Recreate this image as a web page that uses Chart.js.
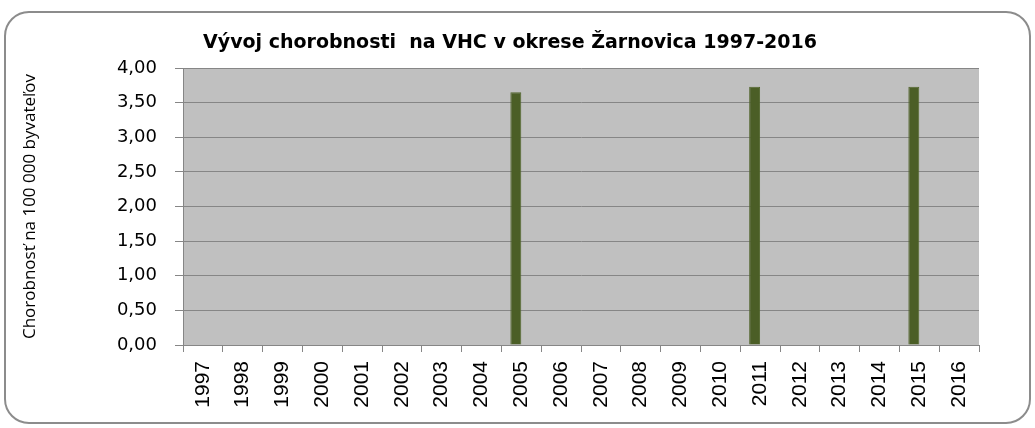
<!DOCTYPE html>
<html lang="sk">
<head>
<meta charset="utf-8">
<title>Vývoj chorobnosti na VHC v okrese Žarnovica</title>
<script src="https://cdn.jsdelivr.net/npm/chart.js@4.4.1/dist/chart.umd.min.js"></script>
<style>
  html, body { margin: 0; padding: 0; background: #fff; }
  #graf { display: block; }
</style>
</head>
<body>
<canvas id="graf" width="1035" height="428"></canvas>
<script>
// roky a chorobnosť na 100 000 obyvateľov
const roky = ["1997", "1998", "1999", "2000", "2001", "2002", "2003", "2004", "2005", "2006",
              "2007", "2008", "2009", "2010", "2011", "2012", "2013", "2014", "2015", "2016"];
const chorobnost = [null, null, null, null, null, null, null, null, 3.65, null,
                    null, null, null, null, 3.73, null, null, null, 3.73, null];
// druhá rada v grafe je prázdna, preto sú stĺpce posunuté doľava
const druhaRada = [null, null, null, null, null, null, null, null, null, null,
                   null, null, null, null, null, null, null, null, null, null];
const nadpis = "Vývoj chorobnosti  na VHC v okrese Žarnovica 1997-2016";
const nazovOsiY = "Chorobnosť na 100 000 byvateľov";

const sivaCiara = "#868686";

// rámik, sivé pozadie grafu a nadpis
const pozadie = {
  id: "pozadie",
  beforeDraw(chart) {
    const ctx = chart.ctx;
    const a = chart.chartArea;
    ctx.save();
    ctx.fillStyle = "#fff";
    ctx.fillRect(0, 0, chart.width, chart.height);

    ctx.strokeStyle = "#8c8c8c";
    ctx.lineWidth = 2;
    ctx.beginPath();
    ctx.roundRect(5, 12, 1025, 411, 24);
    ctx.stroke();

    ctx.fillStyle = "#c0c0c0";
    ctx.fillRect(a.left, a.top, a.right - a.left, a.bottom - a.top);

    ctx.fillStyle = "#000";
    ctx.font = "bold 19px 'DejaVu Sans'";
    ctx.textAlign = "center";
    ctx.textBaseline = "alphabetic";
    ctx.fillText(nadpis, 510, 48);
    ctx.restore();
  }
};

new Chart(document.getElementById("graf").getContext("2d"), {
  type: "bar",
  data: {
    labels: roky,
    datasets: [
      {
        label: "Chorobnosť",
        data: chorobnost,
        backgroundColor: "#4b5e26",
        borderColor: "#52652d",
        borderWidth: 1,
        barPercentage: 1,
        categoryPercentage: 0.55,
      },
      {
        label: "",
        data: druhaRada,
        backgroundColor: "#8064a2",
        barPercentage: 1,
        categoryPercentage: 0.55,
      },
    ],
  },
  options: {
    responsive: false,
    animation: false,
    layout: { padding: { left: 8, top: 68, right: 56, bottom: 10 } },
    plugins: {
      legend: { display: false },
      tooltip: { enabled: false },
      title: { display: false },
    },
    scales: {
      x: {
        grid: {
          display: true,
          drawOnChartArea: false,
          drawTicks: true,
          tickLength: 7,
          color: sivaCiara,
          offset: true,
        },
        border: { display: true, color: sivaCiara },
        ticks: {
          autoSkip: false,
          minRotation: 90,
          maxRotation: 90,
          padding: 9,
          color: "#000",
          font: { family: "'Liberation Sans'", size: 21 },
        },
        afterFit(scale) { scale.height = 73; },
      },
      y: {
        min: 0,
        max: 4,
        ticks: {
          stepSize: 0.5,
          padding: 18,
          color: "#000",
          font: { family: "'DejaVu Sans'", size: 18 },
          callback: v => v.toFixed(2).replace(".", ","),
        },
        grid: { color: sivaCiara, tickLength: 8, drawTicks: true },
        border: { display: true, color: sivaCiara },
        title: {
          display: true,
          text: nazovOsiY,
          color: "#000",
          padding: { top: 12, bottom: 0 },
          font: { family: "'Open Sans'", size: 17 },
        },
        afterFit(scale) { scale.width = 175; },
      },
    },
  },
  plugins: [pozadie],
});
</script>
</body>
</html>
